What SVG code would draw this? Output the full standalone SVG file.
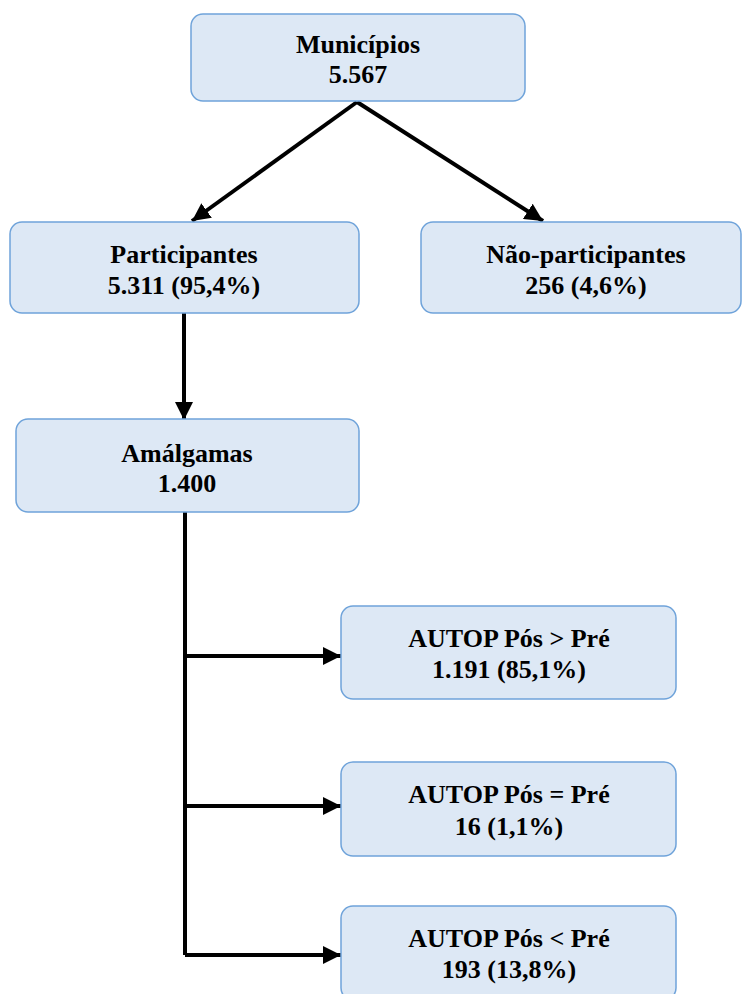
<svg xmlns="http://www.w3.org/2000/svg" width="743" height="994" viewBox="0 0 743 994">
  <style>
    .box { fill: #dde8f5; stroke: #6fa3da; stroke-width: 1.5; }
    .lbl { font-family: "Liberation Serif", "Times New Roman", serif; font-weight: bold; font-size: 26px; fill: #000; text-anchor: middle; }
    .edge { stroke: #000; stroke-width: 4; fill: none; }
    .arr { marker-end: url(#head); }
  </style>
  <defs>
    <marker id="head" markerUnits="userSpaceOnUse" markerWidth="18" markerHeight="18" refX="16" refY="8" orient="auto" viewBox="0 0 16 16">
      <path d="M0,0 L16,8 L0,16 z" fill="#000"/>
    </marker>
  </defs>
  <rect width="743" height="994" fill="#fff"/>

  <!-- connectors -->
  <g id="connectors">
    <line class="edge arr" x1="357" y1="102" x2="192" y2="221"/>
    <line class="edge arr" x1="357" y1="102" x2="543" y2="221"/>
    <line class="edge arr" x1="184" y1="313" x2="184" y2="420"/>
    <line class="edge" x1="185" y1="512" x2="185" y2="955"/>
    <line class="edge arr" x1="185" y1="656" x2="341" y2="656"/>
    <line class="edge arr" x1="185" y1="806" x2="341" y2="806"/>
    <line class="edge arr" x1="185" y1="955" x2="341" y2="955"/>
  </g>

  <!-- nodes -->
  <g id="municipios">
    <rect class="box" x="191" y="14" width="334" height="87" rx="12"/>
    <text class="lbl" x="358" y="53">Municípios</text>
    <text class="lbl" x="358" y="83">5.567</text>
  </g>
  <g id="participantes">
    <rect class="box" x="10" y="222" width="349" height="91" rx="12"/>
    <text class="lbl" x="184" y="263">Participantes</text>
    <text class="lbl" x="184" y="294">5.311 (95,4%)</text>
  </g>
  <g id="nao-participantes">
    <rect class="box" x="421" y="222" width="320" height="91" rx="12"/>
    <text class="lbl" x="586" y="263">Não-participantes</text>
    <text class="lbl" x="586" y="294">256 (4,6%)</text>
  </g>
  <g id="amalgamas">
    <rect class="box" x="16" y="419" width="343" height="93" rx="12"/>
    <text class="lbl" x="187" y="462">Amálgamas</text>
    <text class="lbl" x="187" y="492">1.400</text>
  </g>
  <g id="autop-maior">
    <rect class="box" x="341" y="606" width="335" height="93" rx="12"/>
    <text class="lbl" x="509" y="647">AUTOP Pós &gt; Pré</text>
    <text class="lbl" x="509" y="678">1.191 (85,1%)</text>
  </g>
  <g id="autop-igual">
    <rect class="box" x="341" y="762" width="335" height="94" rx="12"/>
    <text class="lbl" x="509" y="803">AUTOP Pós = Pré</text>
    <text class="lbl" x="509" y="835">16 (1,1%)</text>
  </g>
  <g id="autop-menor">
    <rect class="box" x="341" y="906" width="335" height="94" rx="12"/>
    <text class="lbl" x="509" y="947">AUTOP Pós &lt; Pré</text>
    <text class="lbl" x="509" y="978">193 (13,8%)</text>
  </g>
</svg>
